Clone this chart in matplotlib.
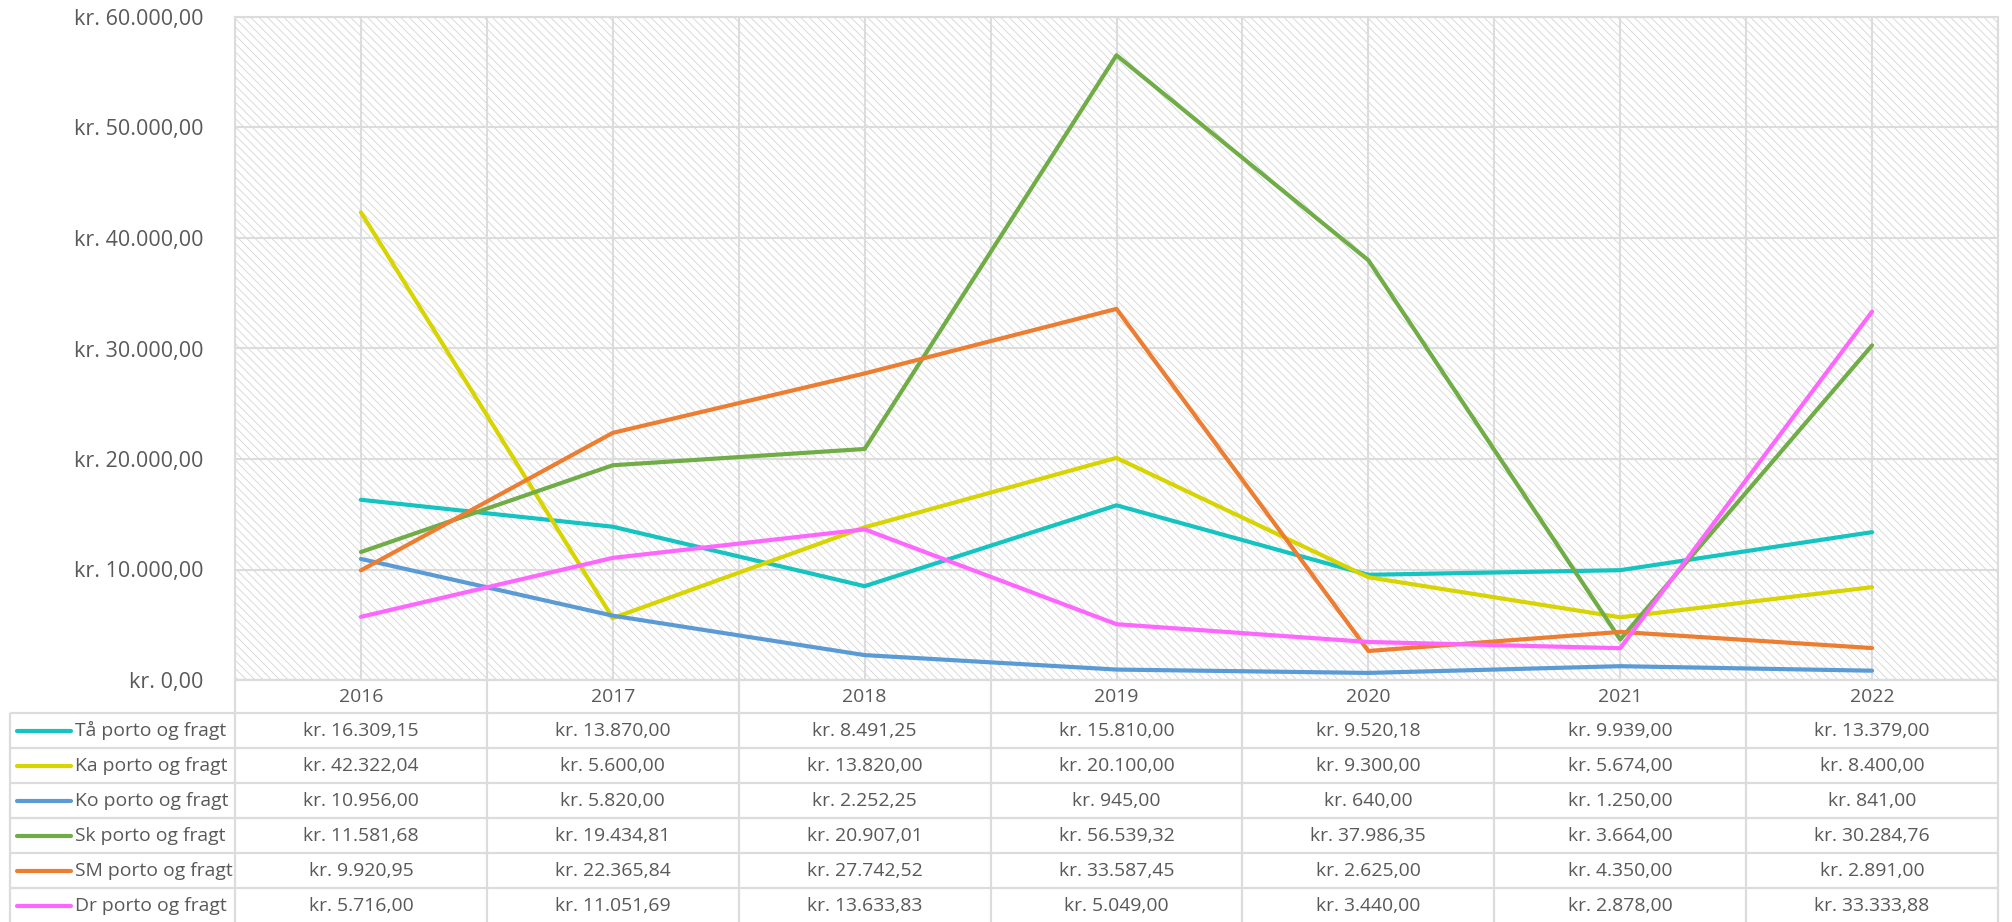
import matplotlib
matplotlib.use("Agg")
import matplotlib.pyplot as plt
import matplotlib.transforms as mtransforms
from matplotlib.textpath import TextPath
from matplotlib.font_manager import FontProperties
from matplotlib.ticker import FuncFormatter, MultipleLocator

# ---------------- data ----------------
years = ['2016', '2017', '2018', '2019', '2020', '2021', '2022']
series_names = ['Tå porto og fragt', 'Ka porto og fragt', 'Ko porto og fragt',
                'Sk porto og fragt', 'SM porto og fragt', 'Dr porto og fragt']
ta = [16309.15, 13870.00, 8491.25, 15810.00, 9520.18, 9939.00, 13379.00]
ka = [42322.04, 5600.00, 13820.00, 20100.00, 9300.00, 5674.00, 8400.00]
ko = [10956.00, 5820.00, 2252.25, 945.00, 640.00, 1250.00, 841.00]
sk = [11581.68, 19434.81, 20907.01, 56539.32, 37986.35, 3664.00, 30284.76]
sm = [9920.95, 22365.84, 27742.52, 33587.45, 2625.00, 4350.00, 2891.00]
dr = [5716.00, 11051.69, 13633.83, 5049.00, 3440.00, 2878.00, 33333.88]
series_values = [ta, ka, ko, sk, sm, dr]
colors = ['#14C4C0', '#D8D400', '#5B9BD5', '#70AD47', '#ED7D31', '#FF66FF']

# ---------------- style ----------------
W, H, DPI = 2012, 922, 100
FAMILY = 'Open Sans'
TXT = '#595959'
GRID = '#DCDCDC'
plt.rcParams['font.family'] = [FAMILY, 'DejaVu Sans']
plt.rcParams['hatch.linewidth'] = 0.6


def kr(v, pos=None):
    s = f"{v:,.2f}".replace(',', 'X').replace('.', ',').replace('X', '.')
    return f"kr. {s}"


def fit_size(s, px):
    w = TextPath((0, 0), s, size=100, prop=FontProperties(family=FAMILY)).get_extents().width
    return px * 72.0 / DPI * 100.0 / w


ytick_size = fit_size('kr. 60.000,00', 126)
table_size = fit_size('kr. 13.379,00', 113)

fig = plt.figure(figsize=(W / DPI, H / DPI), dpi=DPI)
fig.patch.set_facecolor('white')

# plot area in pixels
pl, pr, pt, pb = 235, 1998, 17, 680
ax = fig.add_axes([pl / W, 1 - pb / H, (pr - pl) / W, (pb - pt) / H])
ax.patch.set_facecolor('white')
ax.patch.set_hatch('\\\\\\\\')
ax.patch.set_edgecolor('#D4D4D4')
ax.patch.set_linewidth(0)

x = list(range(len(years)))
for vals, c, name in zip(series_values, colors, series_names):
    ax.plot(x, vals, color=c, lw=3.0, solid_capstyle='round',
            solid_joinstyle='round', label=name, zorder=3)

ax.set_xlim(-0.5, len(years) - 0.5)
ax.set_ylim(0, 60000)
ax.yaxis.set_major_locator(MultipleLocator(10000))
ax.yaxis.set_major_formatter(FuncFormatter(kr))
ax.set_xticks([i - 0.5 for i in range(len(years) + 1)] + x)
ax.set_xticklabels([])
ax.grid(True, color=GRID, lw=1.5, zorder=1)
ax.set_axisbelow(True)
ax.tick_params(axis='both', length=0)
ax.tick_params(axis='y', labelsize=ytick_size, labelcolor=TXT, pad=23)
for sp in ax.spines.values():
    sp.set_color(GRID)
    sp.set_linewidth(1.5)

# ---------------- data table ----------------
tax = fig.add_axes([0, 0, 1, 1], zorder=0)
tax.set_xlim(0, W)
tax.set_ylim(H, 0)
tax.axis('off')
tr = mtransforms.blended_transform_factory(ax.transData, tax.transData)

tl = 10
header_top, header_bot = pb, 713
row_h = 35
n = len(series_names)
row_tops = [header_bot + i * row_h for i in range(n)]
bottom = header_bot + n * row_h

lkw = dict(color=GRID, lw=1.6, solid_capstyle='butt')
# horizontal lines
tax.plot([pl, pr], [header_top, header_top], **lkw)
for yy in row_tops:
    tax.plot([tl, pr], [yy, yy], **lkw)
tax.plot([tl, pr], [bottom, bottom], **lkw)
# vertical lines
tax.plot([tl, tl], [header_bot, bottom], **lkw)
for i in range(len(years) + 1):
    tax.plot([i - 0.5, i - 0.5], [header_top, bottom], transform=tr, **lkw)

# header years
for i, yr in enumerate(years):
    tax.text(i, (header_top + header_bot) / 2, yr, transform=tr, ha='center',
             va='center', fontsize=table_size, color=TXT)

# rows
for r, (name, vals, c) in enumerate(zip(series_names, series_values, colors)):
    yc = row_tops[r] + row_h / 2
    tax.plot([17, 71], [yc, yc], color=c, lw=3.0, solid_capstyle='round')
    tax.text(75, yc, name, ha='left', va='center', fontsize=table_size, color=TXT)
    for i, v in enumerate(vals):
        tax.text(i, yc, kr(v), transform=tr, ha='center', va='center',
                 fontsize=table_size, color=TXT)

fig.savefig('out.png', dpi=DPI, facecolor='white')
